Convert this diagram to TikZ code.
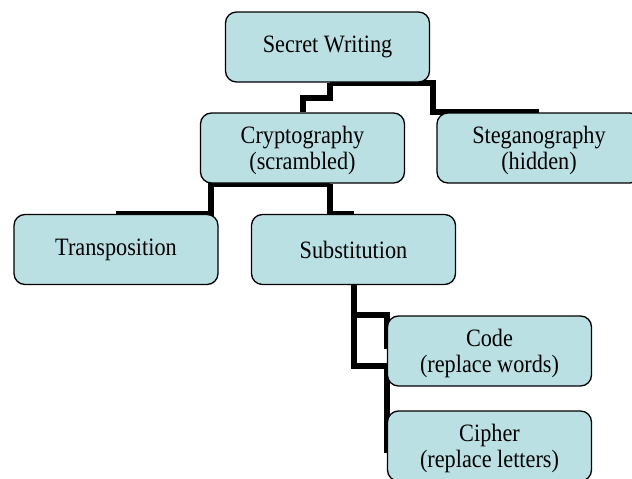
\documentclass[tikz,border=0pt]{standalone}
\usepackage{fontspec}
\setmainfont{Liberation Serif}[FakeStretch=0.89]
\usetikzlibrary{backgrounds}
\definecolor{boxfill}{RGB}{187,224,227}
\begin{document}
\begin{tikzpicture}[x=1pt,y=-1pt,
  box/.style={draw=black, line width=1.3pt, fill=boxfill, rounded corners=11pt,
    minimum width=204pt, minimum height=70pt, inner sep=0pt, align=center,
    font=\fontsize{25}{26}\selectfont},
  twoline/.style={box, text depth=0pt},
  conn/.style={draw=black, line width=6pt, line join=miter}]
  \clip (0,0) rectangle (632,479);

  % hierarchy boxes
  \node[box]     (sw)     at (327.5,47)    {Secret Writing};
  \node[twoline] (crypto) at (302.5,148)   {Cryptography\\(scrambled)};
  \node[twoline] (stego)  at (539,148)     {Steganography\\(hidden)};
  \node[box]     (trans)  at (116,249.5)   {Transposition};
  \node[box]     (sub)    at (353.5,249.5) {Substitution};
  \node[twoline] (code)   at (489.5,351)   {Code\\(replace words)};
  \node[twoline] (cipher) at (489.5,446)   {Cipher\\(replace letters)};

  % elbow connectors, drawn behind the boxes
  \begin{scope}[on background layer]
    \draw[conn] ([xshift=2.5pt]sw.south) -- ++(0,15) -| (crypto.north);
    \draw[conn] ([xshift=2.5pt]sw.south) -| ([xshift=-3pt]stego.north west) -- (stego.north);
    \draw[conn] ([xshift=27pt]crypto.south) -- ([xshift=-92pt]crypto.south) |- (trans.north);
    \draw[conn] ([xshift=27pt]crypto.south) |- (sub.north);
    \draw[conn] (sub.south) |- ([yshift=21pt]code.south west) -- ([yshift=-7pt]cipher.west);
    \draw[conn] (sub.south) |- (code.north west) -- ++(0,34);
  \end{scope}
\end{tikzpicture}
\end{document}
